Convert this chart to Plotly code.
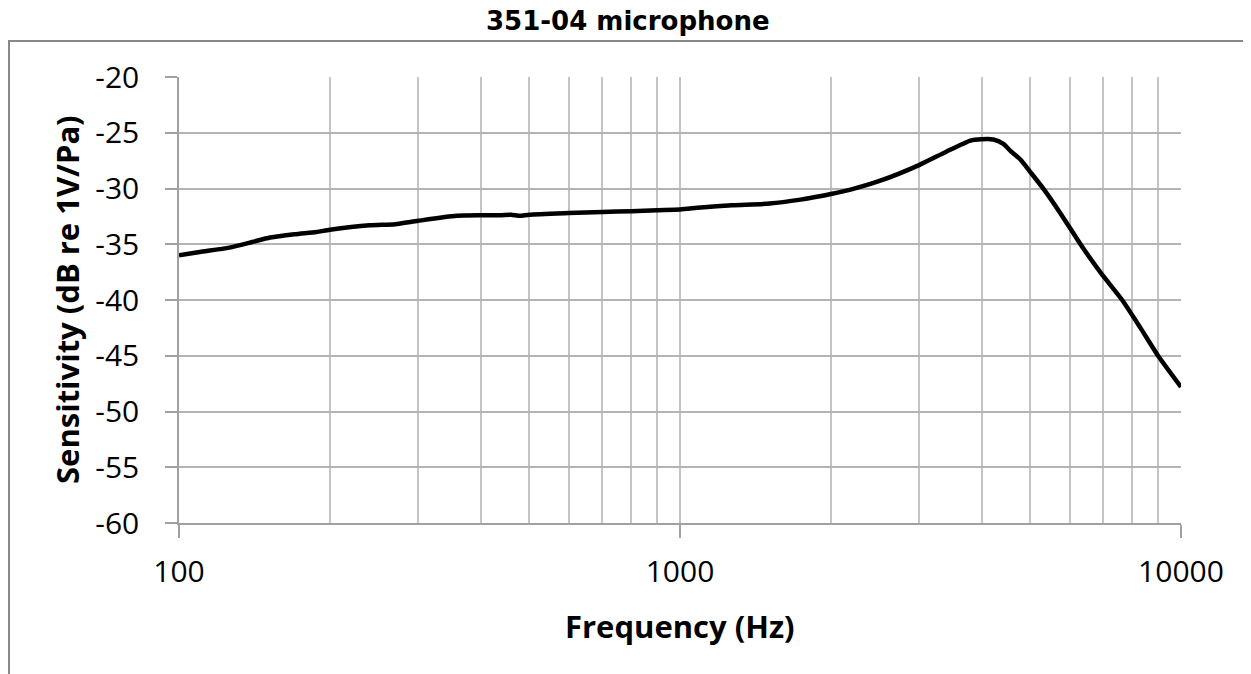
import plotly.graph_objects as go

freq_hz = [100, 110, 126, 140, 152, 170, 188, 200, 240, 270, 300, 358, 400, 437, 460, 479, 500,
           600, 700, 800, 900, 1000, 1100, 1270, 1510, 1740, 1900, 2000, 2190, 2510, 3000,
           3400, 3800, 4000, 4220, 4420, 4560, 4780, 5000, 5330, 5800, 6300, 6900, 7630,
           8300, 9000, 10000]
sensitivity_db = [-36.0, -35.7, -35.3, -34.8, -34.4, -34.1, -33.9, -33.7, -33.3, -33.2, -32.9,
                  -32.45, -32.4, -32.4, -32.35, -32.45, -32.35, -32.2, -32.1, -32.03, -31.94,
                  -31.88, -31.7, -31.5, -31.35, -31.0, -30.7, -30.5, -30.1, -29.3, -27.9,
                  -26.7, -25.7, -25.58, -25.6, -26.0, -26.6, -27.4, -28.5, -30.1, -32.5,
                  -35.0, -37.5, -40.0, -42.5, -45.0, -47.8]

x_major_ticks = [100, 1000, 10000]
x_minor_ticks = [200, 300, 400, 500, 600, 700, 800, 900,
                 2000, 3000, 4000, 5000, 6000, 7000, 8000, 9000]
y_ticks = [-60, -55, -50, -45, -40, -35, -30, -25, -20]

fig = go.Figure()
fig.add_trace(go.Scatter(
    x=freq_hz, y=sensitivity_db, mode="lines",
    line=dict(color="black", width=4.5, shape="spline", smoothing=0.6),
    showlegend=False, hoverinfo="x+y",
))

# page is offset by 8px body margin; figure pixel coords = screen - 8
OFF = 8
W, H = 1243, 666
L, R, T, B = 171, 70, 69, 151
pw, ph = W - L - R, H - T - B

def px_x(p):
    return (p - OFF - L) / pw

def px_y(p):
    return (H - B - (p - OFF)) / ph

tick_font = dict(family="Open Sans", size=30, color="black")
title_font = dict(family="Open Sans", size=31, color="black")

fig.update_layout(
    width=W, height=H,
    margin=dict(l=L, r=R, t=T, b=B, pad=0),
    paper_bgcolor="white", plot_bgcolor="white",
    xaxis=dict(
        type="log", range=[2, 4],
        tickmode="array", tickvals=x_major_ticks,
        ticktext=[str(v) for v in x_major_ticks],
        ticks="outside", ticklen=13, tickwidth=1.5, tickcolor="#a0a0a0",
        showgrid=True, gridcolor="#c4c4c4", gridwidth=1.5,
        minor=dict(tickmode="array", tickvals=x_minor_ticks, showgrid=True,
                   gridcolor="#c4c4c4", gridwidth=1.5, ticks=""),
        showline=True, linecolor="#a0a0a0", linewidth=1.5,
        tickfont=tick_font, ticklabelstandoff=8,
        zeroline=False,
    ),
    yaxis=dict(
        range=[-60, -20], tickmode="array", tickvals=y_ticks,
        ticktext=[str(v) for v in y_ticks],
        ticks="outside", ticklen=12, tickwidth=1.5, tickcolor="#a0a0a0",
        showgrid=True, gridcolor="#b4b4b4", gridwidth=1.5,
        showline=True, linecolor="#a0a0a0", linewidth=1.5,
        tickfont=tick_font, ticklabelstandoff=20,
        zeroline=False,
    ),
    annotations=[
        dict(text="<b>351-04 microphone</b>", xref="paper", yref="paper",
             x=px_x(628), y=px_y(21), xanchor="center", yanchor="middle",
             showarrow=False, font=dict(family="DejaVu Sans", size=26, color="black")),
        dict(text="<b>Frequency (Hz)</b>", xref="paper", yref="paper",
             x=0.5, y=px_y(626), xanchor="center", yanchor="middle",
             showarrow=False, font=title_font),
        dict(text="<b>Sensitivity (dB re 1V/Pa)</b>", xref="paper", yref="paper",
             x=px_x(67), y=0.5, xanchor="center", yanchor="middle", textangle=-90,
             showarrow=False, font=title_font),
    ],
    shapes=[
        dict(type="rect", xref="paper", yref="paper",
             x0=px_x(9), x1=px_x(1270), y0=px_y(700), y1=px_y(41),
             line=dict(color="#888888", width=2), layer="below"),
    ],
)

fig.write_html("out.html")
